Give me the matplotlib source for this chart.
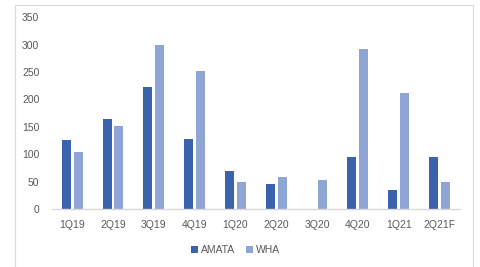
import numpy as np
import matplotlib
matplotlib.use("Agg")
import matplotlib.pyplot as plt
from matplotlib.patches import Rectangle

# Data
quarters = ["1Q19", "2Q19", "3Q19", "4Q19", "1Q20", "2Q20", "3Q20", "4Q20", "1Q21", "2Q21F"]
amata = [125, 165, 223, 127, 69, 46, 0, 95, 35, 95]
wha = [104, 151, 300, 251, 50, 58, 53, 291, 211, 49]
y_ticks = [0, 50, 100, 150, 200, 250, 300, 350]

text_color = "#595959"
plt.rcParams["font.family"] = ["Liberation Sans", "DejaVu Sans"]

fig = plt.figure(figsize=(4.8, 2.67), dpi=100)
ax = fig.add_axes([0.108, 0.217, 0.85, 0.719])

# light frame around the whole chart
fig.patches.append(Rectangle((0.031, -0.01), 0.955, 0.99, transform=fig.transFigure,
                             fill=False, edgecolor="#d9d9d9", linewidth=0.8))

x = np.arange(len(quarters))
w = 0.22
ax.bar(x - 0.145, amata, w, color="#3a62ad", label="AMATA")
ax.bar(x + 0.145, wha, w, color="#8fa5d6", label="WHA")

ax.set_xlim(-0.5, len(quarters) - 0.5)
ax.set_ylim(0, 350)
ax.set_yticks(y_ticks)
ax.set_xticks(x)
ax.set_xticklabels(quarters)
ax.tick_params(axis="both", length=0, labelsize=7.5, colors=text_color)
ax.tick_params(axis="x", pad=8)
ax.tick_params(axis="y", pad=9)

for side in ["top", "right", "left"]:
    ax.spines[side].set_visible(False)
ax.spines["bottom"].set_color("#d9d9d9")
ax.spines["bottom"].set_linewidth(1.0)

leg = ax.legend(loc="upper center", bbox_to_anchor=(0.45, -0.14), ncol=2, frameon=False,
                fontsize=7.5, handlelength=0.7, handleheight=0.7, handletextpad=0.3,
                columnspacing=1.0)
for t in leg.get_texts():
    t.set_color(text_color)

fig.savefig("out.png", dpi=100)
